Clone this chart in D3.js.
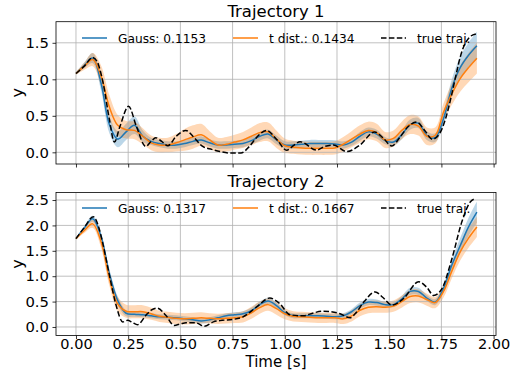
<!DOCTYPE html>
<html><head><meta charset="utf-8">
<script src="https://cdn.jsdelivr.net/npm/d3@7"></script>
<style>body{margin:0;background:#fff}svg{display:block}</style>
</head><body><svg id="c" width="513" height="370"></svg>
<script>
const times = [0,0.04,0.08,0.12,0.16,0.20,0.24,0.28,0.32,0.36,0.40,0.44,0.48,0.52,0.56,0.60,0.64,0.68,0.72,0.76,0.80,0.84,0.88,0.92,0.96,1.00,1.04,1.08,1.12,1.16,1.20,1.24,1.28,1.32,1.36,1.40,1.44,1.48,1.52,1.56,1.60,1.64,1.68,1.72,1.76,1.80,1.84,1.88,1.92];

// Trajectory 1
const gauss1 = [1.08,1.19,1.29,0.95,0.38,0.18,0.28,0.37,0.22,0.15,0.12,0.10,0.10,0.12,0.15,0.17,0.13,0.10,0.10,0.11,0.12,0.16,0.22,0.25,0.17,0.10,0.10,0.11,0.12,0.12,0.12,0.115,0.10,0.14,0.22,0.28,0.25,0.16,0.14,0.24,0.38,0.40,0.23,0.20,0.46,0.88,1.16,1.33,1.46];
const gauss1Std = [0.02,0.04,0.07,0.10,0.12,0.11,0.11,0.12,0.08,0.05,0.05,0.05,0.05,0.05,0.05,0.05,0.05,0.05,0.05,0.05,0.05,0.05,0.06,0.06,0.06,0.05,0.05,0.05,0.05,0.05,0.05,0.05,0.05,0.05,0.06,0.06,0.06,0.05,0.05,0.06,0.07,0.07,0.06,0.06,0.09,0.12,0.15,0.17,0.19];
const tdist1 = [1.08,1.18,1.27,1.05,0.62,0.37,0.31,0.30,0.22,0.13,0.10,0.10,0.13,0.17,0.21,0.24,0.17,0.10,0.11,0.14,0.17,0.22,0.27,0.28,0.18,0.09,0.07,0.06,0.055,0.055,0.055,0.06,0.11,0.18,0.25,0.30,0.27,0.17,0.19,0.30,0.38,0.36,0.22,0.23,0.55,0.80,1.01,1.16,1.29];
const tdist1Std = [0.02,0.05,0.09,0.14,0.16,0.14,0.12,0.12,0.11,0.10,0.10,0.10,0.12,0.15,0.16,0.15,0.12,0.10,0.10,0.10,0.11,0.12,0.13,0.13,0.12,0.10,0.09,0.09,0.09,0.09,0.09,0.09,0.10,0.11,0.12,0.12,0.12,0.11,0.11,0.12,0.13,0.13,0.12,0.11,0.12,0.15,0.18,0.20,0.21];
const trueT1 = [0,0.04,0.08,0.10,0.13,0.16,0.184,0.21,0.252,0.29,0.334,0.36,0.382,0.41,0.44,0.48,0.526,0.56,0.607,0.65,0.69,0.74,0.79,0.83,0.87,0.913,0.96,1.009,1.045,1.073,1.153,1.19,1.233,1.297,1.36,1.43,1.47,1.512,1.55,1.59,1.632,1.67,1.707,1.74,1.77,1.80,1.816,1.847,1.886,1.915];
const trueY1 = [1.08,1.18,1.30,1.25,0.95,0.45,0.14,0.35,0.63,0.35,0.08,0.15,0.20,0.15,0.09,0.22,0.30,0.22,0.08,0.04,0.01,-0.01,-0.01,0.08,0.22,0.30,0.18,0.03,0.10,0.145,0.03,0.08,0.10,0.01,0.10,0.28,0.20,0.086,0.20,0.35,0.415,0.30,0.18,0.25,0.46,0.80,1.01,1.37,1.58,1.62];

// Trajectory 2
const gauss2 = [1.74,1.95,2.13,1.78,1.05,0.52,0.27,0.25,0.24,0.22,0.20,0.19,0.18,0.16,0.14,0.12,0.14,0.18,0.22,0.24,0.26,0.32,0.44,0.51,0.42,0.28,0.22,0.22,0.22,0.22,0.21,0.20,0.22,0.30,0.42,0.49,0.48,0.44,0.44,0.55,0.70,0.70,0.57,0.49,0.76,1.22,1.60,1.97,2.26];
const gauss2Std = [0.02,0.04,0.06,0.08,0.09,0.08,0.06,0.05,0.05,0.05,0.05,0.05,0.05,0.05,0.05,0.05,0.05,0.05,0.05,0.05,0.05,0.06,0.06,0.06,0.06,0.05,0.05,0.05,0.05,0.05,0.05,0.05,0.05,0.05,0.06,0.06,0.06,0.05,0.05,0.06,0.07,0.07,0.06,0.06,0.08,0.11,0.15,0.18,0.21];
const tdist2 = [1.74,1.90,2.03,1.68,0.95,0.45,0.31,0.30,0.30,0.26,0.21,0.19,0.17,0.16,0.17,0.18,0.17,0.16,0.17,0.18,0.20,0.28,0.38,0.44,0.36,0.26,0.21,0.20,0.19,0.18,0.18,0.18,0.16,0.22,0.33,0.39,0.40,0.39,0.41,0.50,0.60,0.61,0.54,0.48,0.70,1.10,1.48,1.75,1.97];
const tdist2Std = [0.02,0.05,0.08,0.12,0.14,0.14,0.13,0.13,0.13,0.12,0.11,0.11,0.11,0.11,0.11,0.11,0.10,0.10,0.10,0.10,0.11,0.12,0.12,0.12,0.12,0.11,0.10,0.10,0.10,0.10,0.10,0.10,0.10,0.11,0.12,0.12,0.12,0.11,0.11,0.12,0.13,0.13,0.12,0.11,0.12,0.14,0.17,0.19,0.20];
const trueT2 = [0,0.04,0.083,0.11,0.127,0.16,0.192,0.224,0.247,0.27,0.295,0.335,0.36,0.39,0.43,0.47,0.50,0.527,0.575,0.615,0.658,0.70,0.754,0.80,0.864,0.928,0.976,1.025,1.089,1.14,1.185,1.265,1.313,1.337,1.38,1.433,1.47,1.513,1.569,1.641,1.68,1.713,1.752,1.80,1.848,1.888,1.915];
const trueY2 = [1.74,1.96,2.17,1.95,1.67,1.02,0.43,0.10,0.13,0.09,0.045,0.23,0.33,0.37,0.23,0.03,0.06,0.085,0.08,0.013,0.10,0.13,0.15,0.20,0.39,0.57,0.46,0.24,0.22,0.28,0.31,0.26,0.18,0.26,0.50,0.69,0.58,0.43,0.56,0.89,0.78,0.62,0.75,1.34,2.07,2.46,2.53];

const xTicks = [0,0.25,0.5,0.75,1.0,1.25,1.5,1.75,2.0];
const yTicks1 = [0.0,0.5,1.0,1.5];
const yTicks2 = [0.0,0.5,1.0,1.5,2.0,2.5];
const titles = ["Trajectory 1","Trajectory 2"];
const legend1 = ["Gauss: 0.1153","t dist.: 0.1434","true traj."];
const legend2 = ["Gauss: 0.1317","t dist.: 0.1667","true traj."];

const BLUE = "#1f77b4", ORANGE = "#ff7f0e";
const FONT = "DejaVu Sans";
const svg = d3.select("#c");
const L = 56, R = 496;
const x = d3.scaleLinear().domain([-0.0957, 2.0115]).range([L, R]);

const panels = [
  {top:21.7, bottom:164, ydom:[-0.16,1.789], yTicks:yTicks1, title:titles[0], legend:legend1,
   g:gauss1, gs:gauss1Std, t:tdist1, ts:tdist1Std, tt:trueT1, ty:trueY1, labels:false, titleY:17, legY:38},
  {top:192.5, bottom:335.5, ydom:[-0.168,2.648], yTicks:yTicks2, title:titles[1], legend:legend2,
   g:gauss2, gs:gauss2Std, t:tdist2, ts:tdist2Std, tt:trueT2, ty:trueY2, labels:true, titleY:187, legY:208}
];

panels.forEach((p, pi) => {
  const y = d3.scaleLinear().domain(p.ydom).range([p.bottom, p.top]);
  const g = svg.append("g");
  const cid = "clip" + pi;
  svg.append("clipPath").attr("id", cid).append("rect")
    .attr("x", L).attr("y", p.top).attr("width", R - L).attr("height", p.bottom - p.top);
  const plot = g.append("g").attr("clip-path", `url(#${cid})`);

  const curve = d3.curveCatmullRom.alpha(0.5);
  const area = (m, s) => d3.area().curve(curve)
    .x((d, i) => x(times[i])).y0((d, i) => y(m[i] - s[i])).y1((d, i) => y(m[i] + s[i]))(m);
  plot.append("path").attr("d", area(p.g, p.gs)).attr("fill", BLUE).attr("fill-opacity", 0.3);
  plot.append("path").attr("d", area(p.t, p.ts)).attr("fill", ORANGE).attr("fill-opacity", 0.3);

  // grid
  xTicks.forEach(v => plot.append("line").attr("x1", x(v)).attr("x2", x(v)).attr("y1", p.top).attr("y2", p.bottom)
    .attr("stroke", "#b0b0b0").attr("stroke-width", 0.8));
  p.yTicks.forEach(v => plot.append("line").attr("x1", L).attr("x2", R).attr("y1", y(v)).attr("y2", y(v))
    .attr("stroke", "#b0b0b0").attr("stroke-width", 0.8));

  const line = (m) => d3.line().curve(curve).x((d, i) => x(times[i])).y(d => y(d))(m);
  plot.append("path").attr("d", line(p.g)).attr("fill", "none").attr("stroke", BLUE).attr("stroke-width", 1.5);
  plot.append("path").attr("d", line(p.t)).attr("fill", "none").attr("stroke", ORANGE).attr("stroke-width", 1.5);
  const tline = d3.line().curve(d3.curveMonotoneX).x((d, i) => x(p.tt[i])).y(d => y(d));
  plot.append("path").attr("d", tline(p.ty)).attr("fill", "none").attr("stroke", "#000")
    .attr("stroke-width", 1.5).attr("stroke-dasharray", "5.5,2.4");

  // axes
  const ya = g.append("g").attr("transform", `translate(${L},0)`)
    .call(d3.axisLeft(y).tickValues(p.yTicks).tickFormat(d3.format(".1f")).tickSize(3.5).tickPadding(3.5));
  const xa = g.append("g").attr("transform", `translate(0,${p.bottom})`)
    .call(d3.axisBottom(x).tickValues(xTicks).tickFormat(p.labels ? d3.format(".2f") : () => "").tickSize(3.5).tickPadding(0));
  [ya, xa].forEach(a => {
    a.select(".domain").remove();
    a.selectAll("text").attr("font-family", FONT).attr("font-size", 14.8).attr("fill", "#000");
    a.selectAll("line").attr("stroke", "#000").attr("stroke-width", 0.8);
  });
  xa.selectAll("text").attr("font-size", 14.5);
  g.append("rect").attr("x", L).attr("y", p.top).attr("width", R - L).attr("height", p.bottom - p.top)
    .attr("fill", "none").attr("stroke", "#000").attr("stroke-width", 0.8);

  g.append("text").attr("x", (L + R) / 2).attr("y", p.titleY).attr("text-anchor", "middle")
    .attr("font-family", FONT).attr("font-size", 16.5).text(p.title);
  g.append("text").attr("transform", `translate(23,${(p.top + p.bottom) / 2}) rotate(-90)`)
    .attr("text-anchor", "middle").attr("font-family", FONT).attr("font-size", 16).text("y");

  // legend
  const lx = [82, 233, 381];
  const cols = [BLUE, ORANGE, "#000"];
  p.legend.forEach((lab, i) => {
    const ln = g.append("line").attr("x1", lx[i]).attr("x2", lx[i] + 25).attr("y1", p.legY).attr("y2", p.legY)
      .attr("stroke", cols[i]).attr("stroke-width", 1.5);
    if (i === 2) ln.attr("stroke-dasharray", "5.5,2.4");
    g.append("text").attr("x", lx[i] + 36).attr("y", p.legY + 4.5).attr("font-family", FONT)
      .attr("font-size", 12.2).text(lab);
  });
});

svg.append("text").attr("x", (L + R) / 2).attr("y", 367).attr("text-anchor", "middle")
  .attr("font-family", FONT).attr("font-size", 15).text("Time [s]");
</script></body></html>
